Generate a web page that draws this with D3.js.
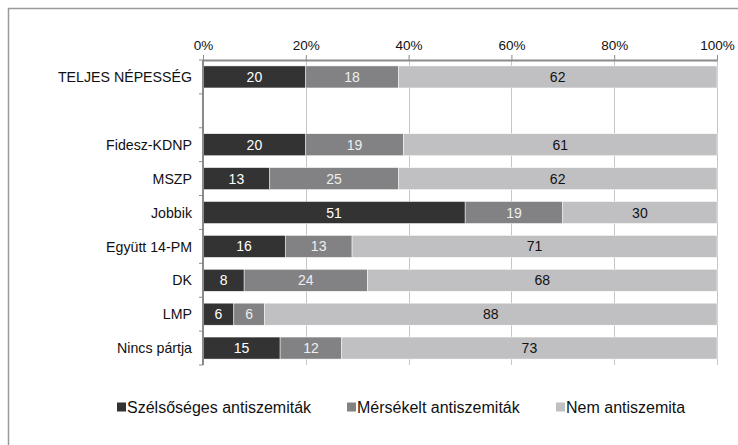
<!DOCTYPE html>
<html>
<head>
<meta charset="utf-8">
<script src="https://d3js.org/d3.v7.min.js"></script>
<style>
  body { margin: 0; background: #fff; }
  svg text { font-family: "Liberation Sans", Arial, sans-serif; }
</style>
</head>
<body>
<script>
// categories (the empty one is the spacer row under the total)
var categories = ["TELJES NÉPESSÉG", "", "Fidesz-KDNP", "MSZP", "Jobbik", "Együtt 14-PM", "DK", "LMP", "Nincs pártja"];
var extreme  = [20, null, 20, 13, 51, 16, 8, 6, 15];
var moderate = [18, null, 19, 25, 19, 13, 24, 6, 12];
var notAnti  = [62, null, 61, 62, 30, 71, 68, 88, 73];
var seriesNames = ["Szélsőséges antiszemiták", "Mérsékelt antiszemiták", "Nem antiszemita"];
var tickValues = [0, 20, 40, 60, 80, 100];

var colors = ["#333333", "#828284", "#c0c0c3"];
var labelColors = ["#ffffff", "#eeeeee", "#111111"];

var outerWidth = 738, outerHeight = 445;
var margin = { top: 60, left: 203, right: 21, bottom: 80 };
var width = outerWidth - margin.left - margin.right,
    height = outerHeight - margin.top - margin.bottom;

var svg = d3.select("body").append("svg")
  .attr("width", outerWidth)
  .attr("height", outerHeight);

// frame (image is cropped, only top + left edges show)
svg.append("path")
  .attr("d", "M8.5,445 L8.5,8.5 L738,8.5")
  .attr("fill", "none")
  .attr("stroke", "#9a9a9a")
  .attr("stroke-width", 1.5);

var g = svg.append("g")
  .attr("transform", "translate(" + margin.left + "," + margin.top + ")");

var xScale = d3.scaleLinear().domain([0, 100]).range([0, width]);
var yScale = d3.scaleBand()
  .domain(d3.range(categories.length))
  .range([0, height])
  .paddingInner(0.35)
  .paddingOuter(0.175);

// gridlines
g.selectAll(".grid")
  .data(tickValues.slice(1))
  .enter().append("line")
  .attr("x1", function(d) { return Math.round(xScale(d)) + 0.5; })
  .attr("x2", function(d) { return Math.round(xScale(d)) + 0.5; })
  .attr("y1", 0)
  .attr("y2", height)
  .attr("stroke", "#c6c6c6")
  .attr("stroke-width", 1);

// stacked rows
var rows = categories.map(function(c, i) {
  return { i: i, values: [extreme[i], moderate[i], notAnti[i]] };
}).filter(function(r) { return r.values[0] !== null; });

rows.forEach(function(r) {
  var x0 = 0;
  r.values.forEach(function(v, k) {
    var xs = xScale(x0), xe = xScale(x0 + v);
    g.append("rect")
      .attr("x", xs)
      .attr("y", yScale(r.i))
      .attr("width", xe - xs)
      .attr("height", yScale.bandwidth())
      .attr("fill", colors[k])
      .attr("stroke", "#ffffff")
      .attr("stroke-width", 0.5);
    g.append("text")
      .attr("x", (xs + xe) / 2)
      .attr("y", yScale(r.i) + yScale.bandwidth() / 2)
      .attr("dy", "0.36em")
      .attr("text-anchor", "middle")
      .attr("font-size", 14)
      .attr("fill", labelColors[k])
      .text(v);
    x0 += v;
  });
});

// top axis
var xAxis = d3.axisTop(xScale)
  .tickValues(tickValues)
  .tickFormat(function(d) { return d + "%"; })
  .tickSize(5)
  .tickSizeOuter(0);
var xAxisG = g.append("g").call(xAxis);
xAxisG.select(".domain").attr("stroke", "#8a8a8a").attr("stroke-width", 2);
xAxisG.selectAll(".tick line").attr("stroke", "#8a8a8a");
xAxisG.selectAll(".tick text")
  .attr("font-size", 13.5)
  .attr("fill", "#111")
  .attr("font-family", "Liberation Sans, Arial, sans-serif")
  .attr("y", -10);

// left axis: band boundary ticks
g.append("line")
  .attr("x1", 0).attr("x2", 0)
  .attr("y1", 0).attr("y2", height)
  .attr("stroke", "#8a8a8a").attr("stroke-width", 2);
g.selectAll(".ytick")
  .data(d3.range(categories.length + 1))
  .enter().append("line")
  .attr("x1", -4).attr("x2", 0)
  .attr("y1", function(d) { return d * height / categories.length; })
  .attr("y2", function(d) { return d * height / categories.length; })
  .attr("stroke", "#8a8a8a");

g.selectAll(".ylabel")
  .data(categories)
  .enter().append("text")
  .attr("x", -11)
  .attr("y", function(d, i) { return yScale(i) + yScale.bandwidth() / 2; })
  .attr("dy", "0.36em")
  .attr("text-anchor", "end")
  .attr("font-size", 14.2)
  .attr("fill", "#111")
  .text(function(d) { return d; });

// legend
var legendX = [117, 347, 556];
var legend = svg.append("g").attr("transform", "translate(0,407)");
seriesNames.forEach(function(name, k) {
  legend.append("rect")
    .attr("x", legendX[k])
    .attr("y", -4.5)
    .attr("width", 9)
    .attr("height", 9)
    .attr("fill", colors[k]);
  legend.append("text")
    .attr("x", legendX[k] + 10)
    .attr("y", 0)
    .attr("dy", "0.36em")
    .attr("font-size", 16)
    .attr("fill", "#111")
    .text(name);
});
</script>
</body>
</html>
